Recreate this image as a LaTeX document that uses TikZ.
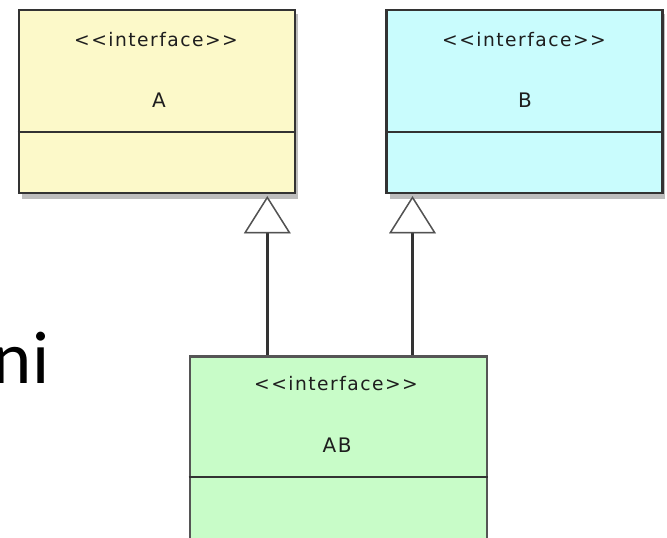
\documentclass[tikz,border=0pt]{standalone}
\usepackage{fontspec}
\setmainfont{Carlito}
\newfontfamily\umlfont[LetterSpace=8]{DejaVu Sans}
\usetikzlibrary{arrows.meta}
\definecolor{fillA}{HTML}{FCF9C9}
\definecolor{fillB}{HTML}{C9FCFD}
\definecolor{fillAB}{HTML}{C8FCC8}
\definecolor{edge}{HTML}{333333}
\definecolor{edgeAB}{HTML}{555555}
\definecolor{shade}{HTML}{BDBDBD}
\definecolor{ink}{HTML}{1E1E1E}
\tikzset{
  classbox/.style={draw=edge, line width=1.9pt, inner sep=0pt,
    minimum width=207pt, minimum height=137pt},
  stereo/.style={font=\umlfont\fontsize{14}{16}\selectfont, text=ink, inner sep=0pt},
  cname/.style={font=\umlfont\fontsize{15}{17}\selectfont, text=ink, inner sep=0pt},
  divider/.style={draw=edge, line width=1.3pt},
  shadowbox/.style={fill=shade},
  realizes/.style={draw=edge, line width=2.2pt,
    -{Triangle[length=28pt, width=35pt, fill=white, line width=1.1pt, color=edge!85]}},
  realizeshadow/.style={draw=shade, line width=2.6pt, xshift=1.2pt, yshift=-2.6pt,
    -{Triangle[length=28pt, width=35pt, fill=shade, line width=1.1pt]}},
}
\begin{document}
\begin{tikzpicture}[x=0.75pt, y=-0.75pt]
\useasboundingbox (0,0) rectangle (667,538);

% drop shadows of the two upper classes
\fill[shadowbox] (22,14) rectangle (298,199);
\fill[shadowbox] (390,14) rectangle (665,199);

% interface A
\node[classbox, fill=fillA] (A) at (157,101.5) {};
\draw[divider] (A.west |- 0,132) -- (A.east |- 0,132);
\node[stereo, anchor=base] (sA) at (156,47) {<<interface>>};
\node[cname, anchor=base] (nA) at (159,108) {A};

% interface B
\node[classbox, fill=fillB] (B) at (524.5,101.5) {};
\draw[divider] (B.west |- 0,132) -- (B.east |- 0,132);
\node[stereo, anchor=base] (sB) at (524,47) {<<interface>>};
\node[cname, anchor=base] (nB) at (525,108) {B};

% interface AB (runs past the lower edge)
\node[classbox, draw=edgeAB, fill=fillAB, minimum width=223pt] (AB) at (338.5,448) {};
\draw[divider] (AB.west |- 0,477) -- (AB.east |- 0,477);
\node[stereo, anchor=base] (sAB) at (336,390) {<<interface>>};
\node[cname, anchor=base] (nAB) at (337,452) {AB};

% realization connectors: soft shadow first, then the lines
\draw[realizeshadow, shorten >=1.5pt] ([xshift=-53.4pt]AB.north) -- ([xshift=-53.4pt]AB.north |- A.south);
\draw[realizeshadow, shorten >=1.5pt] ([xshift=55.5pt]AB.north) -- ([xshift=55.5pt]AB.north |- B.south);
\draw[realizes, shorten >=1.5pt] ([xshift=-53.4pt]AB.north) -- ([xshift=-53.4pt]AB.north |- A.south);
\draw[realizes, shorten >=1.5pt] ([xshift=55.5pt]AB.north) -- ([xshift=55.5pt]AB.north |- B.south);

% slide text at the left edge
\node[font=\fontsize{56}{60}\selectfont, anchor=base east, inner sep=0pt] (word) at (49.5,383) {ni};
\end{tikzpicture}
\end{document}
